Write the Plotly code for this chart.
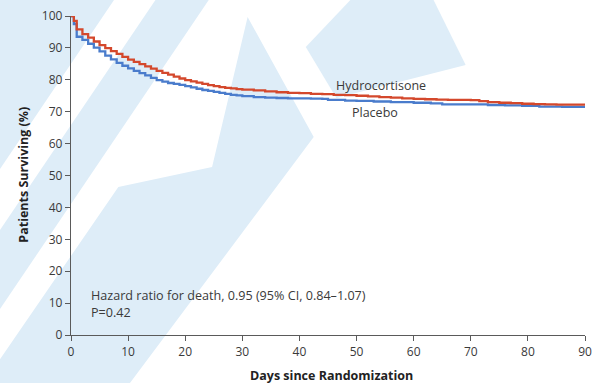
import plotly.graph_objects as go

# Kaplan-Meier survival estimates (% alive) by study day
hydro_days = [0, 0.5, 1, 2, 3, 4, 5, 6, 7, 8, 9, 10, 11, 12, 13, 14, 15, 16, 17, 18, 19,
              20, 21, 22, 23, 24, 25, 26, 27, 28, 29, 30, 32, 34, 36, 38, 40, 42, 44, 46,
              48, 50, 52, 54, 56, 58, 60, 62, 64, 66, 68, 70, 71.5, 73, 75, 77, 79, 81, 83,
              85, 87, 90]
hydro_surv = [100, 98.5, 95.8, 94.3, 93.2, 92.0, 90.9, 89.9, 89.0, 88.1, 87.2, 86.3, 85.6,
              84.9, 84.2, 83.5, 82.8, 82.2, 81.6, 81.0, 80.4, 79.9, 79.5, 79.1, 78.7, 78.3,
              78.0, 77.7, 77.5, 77.3, 77.1, 76.9, 76.7, 76.4, 76.1, 75.9, 75.8, 75.6, 75.5,
              75.3, 75.2, 75.0, 74.8, 74.6, 74.4, 74.2, 74.0, 73.9, 73.8, 73.7, 73.7, 73.6,
              73.3, 73.0, 72.8, 72.7, 72.5, 72.4, 72.3, 72.2, 72.2, 72.1]

placebo_days = [0, 0.5, 1, 2, 3, 4, 5, 6, 7, 8, 9, 10, 11, 12, 13, 14, 15, 16, 17, 18, 19,
                20, 21, 22, 23, 24, 25, 26, 27, 28, 29, 30, 32, 34, 36, 38, 40, 42, 44, 45,
                48, 50, 53, 56, 60, 63, 65, 70, 73, 76, 79, 82, 86, 90]
placebo_surv = [100, 97.5, 93.5, 92.5, 91.3, 90.1, 88.9, 87.6, 86.4, 85.3, 84.4, 83.6, 82.8,
                82.1, 81.4, 80.6, 79.9, 79.4, 79.0, 78.7, 78.4, 78.0, 77.6, 77.2, 76.8, 76.5,
                76.2, 75.9, 75.6, 75.3, 75.1, 74.9, 74.6, 74.4, 74.3, 74.2, 74.2, 74.1, 74.0,
                73.7, 73.5, 73.4, 73.2, 73.0, 72.8, 72.6, 72.3, 72.3, 72.1, 72.0, 71.8, 71.6,
                71.5, 71.3]

x_ticks = [0, 10, 20, 30, 40, 50, 60, 70, 80, 90]
y_ticks = [0, 10, 20, 30, 40, 50, 60, 70, 80, 90, 100]

RED = "#d4482c"
BLUE = "#4a7ccc"
INK = "#3a3a3a"
AXIS = "#5a5a5a"
WASH = "#deedf8"
FONT = "Open Sans"

W, H = 599, 383
L, R, T, B = 71, 7, 16, 48
PW, PH = W - L - R, H - T - B


def px_path(points):
    """Closed SVG path in paper units from pixel-space corner points."""
    pts = [((x - L) / PW, (H - B - y) / PH) for x, y in points]
    return "M " + " L ".join(f"{a:.4f},{b:.4f}" for a, b in pts) + " Z"


# background watermark bands
wash_polys = [
    [(-5, -5), (118, -5), (-5, 175)],
    [(160, -5), (214, -5), (-5, 315), (-5, 236)],
    [(-5, 388), (-5, 365), (119, 187), (214, 167), (250, 17), (317, 137), (127, 388)],
    [(309, 47), (359, -5), (436, -5), (471, 65), (340, 98)],
]

fig = go.Figure()
fig.add_trace(go.Scatter(x=placebo_days, y=placebo_surv, mode="lines",
                         line=dict(color=BLUE, width=2.3, shape="hv"),
                         name="Placebo", hoverinfo="skip"))
fig.add_trace(go.Scatter(x=hydro_days, y=hydro_surv, mode="lines",
                         line=dict(color=RED, width=2.3, shape="hv"),
                         name="Hydrocortisone", hoverinfo="skip"))

fig.update_layout(
    width=W, height=H,
    margin=dict(l=L, r=R, t=T, b=B),
    paper_bgcolor="white", plot_bgcolor="rgba(0,0,0,0)",
    showlegend=False,
    font=dict(family=FONT, size=12, color=INK),
    shapes=[dict(type="path", path=px_path(p), xref="paper", yref="paper",
                 fillcolor=WASH, line=dict(width=0), layer="below")
            for p in wash_polys],
)

fig.update_xaxes(range=[0, 90], tickvals=x_ticks, ticks="outside", ticklen=5,
                 tickwidth=1.3, tickcolor=AXIS, showline=True, linecolor=AXIS,
                 linewidth=1.3, showgrid=False, zeroline=False,
                 tickfont=dict(size=12, color=INK))
fig.update_yaxes(range=[0, 100], tickvals=y_ticks, ticks="outside", ticklen=5,
                 tickwidth=1.3, tickcolor=AXIS, showline=True, linecolor=AXIS,
                 linewidth=1.3, showgrid=False, zeroline=False,
                 tickfont=dict(size=12, color=INK))

fig.add_annotation(text="<b>Days since Randomization</b>", xref="paper", yref="paper",
                   x=(335 - L) / PW, y=(H - B - 375) / PH, xanchor="center",
                   yanchor="middle", showarrow=False, font=dict(size=12.5, color="#222"))
fig.add_annotation(text="<b>Patients Surviving (%)</b>", xref="paper", yref="paper",
                   x=(22 - L) / PW, y=(H - B - 175) / PH, xanchor="center",
                   yanchor="middle", textangle=-90, showarrow=False,
                   font=dict(size=12.5, color="#222"))

fig.add_annotation(text="Hydrocortisone", x=54.3, y=78.1, showarrow=False,
                   font=dict(size=12.5, color=INK))
fig.add_annotation(text="Placebo", x=53.2, y=69.6, showarrow=False,
                   font=dict(size=12.5, color=INK))
fig.add_annotation(text="Hazard ratio for death, 0.95 (95% CI, 0.84\u20131.07)",
                   x=3.2, y=12.5, xanchor="left", showarrow=False,
                   font=dict(size=12.6, color=INK))
fig.add_annotation(text="P=0.42", x=3.2, y=7.1, xanchor="left", showarrow=False,
                   font=dict(size=12.6, color=INK))

fig.write_html("out.html")
